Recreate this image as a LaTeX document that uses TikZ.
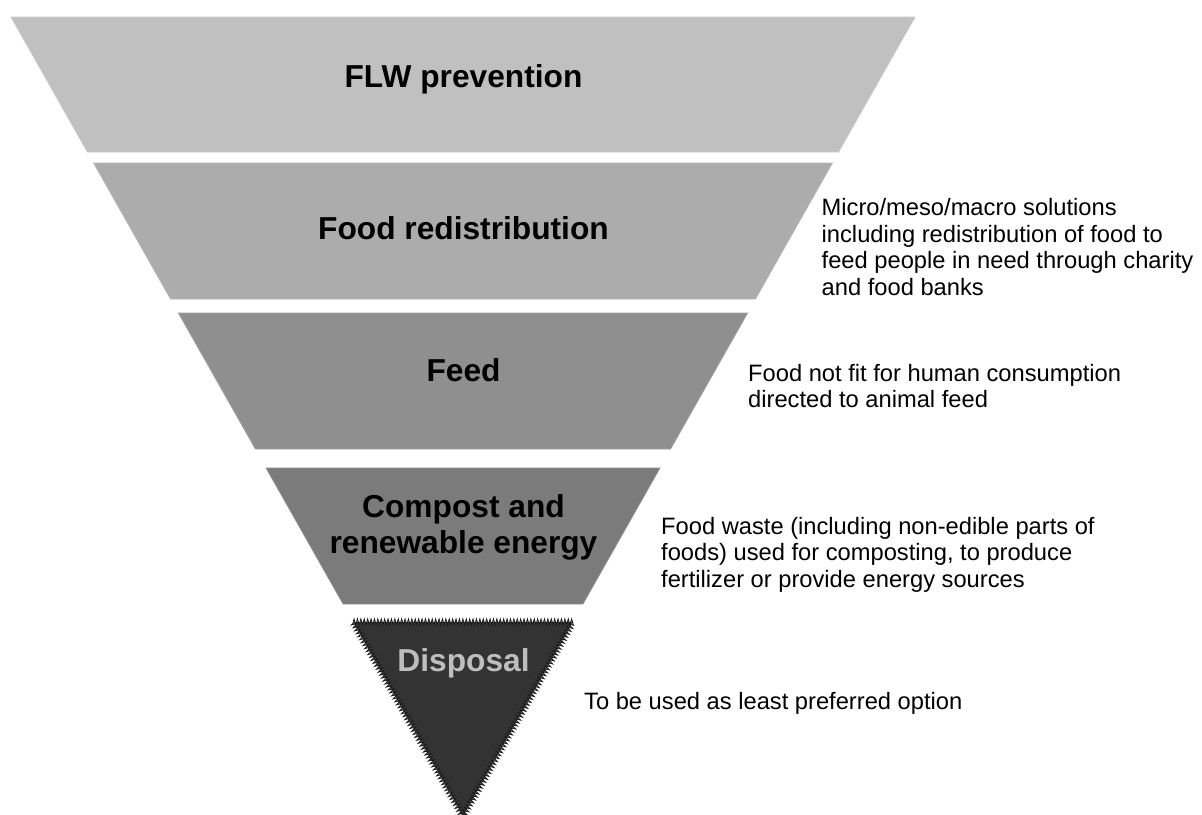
\documentclass[tikz,border=0pt]{standalone}
\usepackage{fontspec}
\setmainfont{Liberation Sans}
\usetikzlibrary{decorations.pathmorphing}

\definecolor{TierOne}{HTML}{C0C0C0}
\definecolor{TierTwo}{HTML}{ACACAC}
\definecolor{TierThree}{HTML}{8F8F8F}
\definecolor{TierFour}{HTML}{7B7B7B}
\definecolor{DisposalGray}{HTML}{333333}
\definecolor{DisposalEdge}{HTML}{1E1E1E}
\definecolor{DisposalText}{HTML}{BEBEBE}

\begin{document}
\begin{tikzpicture}[
        x=1pt, y=-1pt,
        tier/.style={fill=#1, draw=#1!85!white, line width=0.8pt},
        title/.style={anchor=base, inner sep=0pt, align=center, font=\bfseries\fontsize{31.7}{36.5}\selectfont},
        note/.style={anchor=base west, inner sep=0pt, align=left, font=\fontsize{23.7}{26.5}\selectfont}
    ]
        \useasboundingbox (0,0) rectangle (1202,814);

        % FLW prevention
        \filldraw[tier=TierOne] (11,17) -- (915,17) -- (838.6,152) -- (87.4,152) -- cycle;
        \node[title] (prevention) at (463.5,87) {FLW prevention};

        % Food redistribution (base anchor sits on the last line)
        \filldraw[tier=TierTwo] (93.6,163) -- (832.4,163) -- (755.5,299) -- (170.5,299) -- cycle;
        \node[title] (redistribution) at (463.5,239) {Food redistribution};
        \node[note] (redistnote) at (821.5,295) {Micro/meso/macro solutions\\including redistribution of food to\\feed people in need through charity\\and food banks};

        % Feed
        \filldraw[tier=TierThree] (178.4,313) -- (747.6,313) -- (670.6,449) -- (255.4,449) -- cycle;
        \node[title] (feed) at (463.5,381) {Feed};
        \node[note] (feednote) at (748,407.5) {Food not fit for human consumption\\directed to animal feed};

        % Compost and renewable energy
        \filldraw[tier=TierFour] (266.1,468) -- (659.9,468) -- (582.9,604) -- (343.1,604) -- cycle;
        \node[title] (compost) at (463.5,553.5) {Compost and\\renewable energy};
        \node[note] (compostnote) at (661,587) {Food waste (including non-edible parts of\\foods) used for composting, to produce\\fertilizer or provide energy sources};

        % Disposal
        \fill[DisposalGray] (353.2,622) -- (572.8,622) -- (463,816) -- cycle;
        \draw[DisposalEdge, line width=0.9pt, decorate, decoration={zigzag, amplitude=3pt, segment length=3.4pt}]
            (353.2,622) -- (572.8,622) -- (463,816) -- cycle;
        \node[title, text=DisposalText] (disposal) at (463.5,671) {Disposal};
        \node[note] (disposalnote) at (584,709) {To be used as least preferred option};
    \end{tikzpicture}
\end{document}
